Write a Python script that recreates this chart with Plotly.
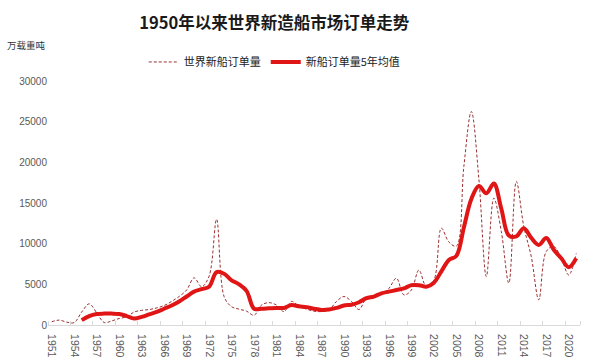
import plotly.graph_objects as go

years = list(range(1951, 2022))

orders = [400, 600, 350, 300, 1600, 2600, 1500, 300, 500, 800,
          1000, 1600, 1800, 1900, 2100, 2400, 2900, 3500, 4300, 5800,
          4700, 6000, 13000, 3500, 2250, 1950, 1700, 1200, 2450, 2750,
          2450, 1650, 2900, 2300, 1950, 1700, 1650, 1850, 2900, 3500,
          2900, 1900, 3300, 3600, 3750, 4500, 5750, 3700, 4300, 6750,
          4700, 5500, 11900, 10200, 9700, 19500, 26250, 18000, 5950, 15600,
          11500, 5150, 17650, 12100, 8400, 3100, 9050, 9650, 8200, 6150,
          8800]

avg_years = list(range(1955, 2022))
avg5 = [600, 1100, 1350, 1400, 1400, 1350, 1100, 800, 1000, 1300,
        1600, 2000, 2400, 2900, 3500, 4100, 4400, 4700, 6500, 6300,
        5500, 5000, 4200, 2000, 2000, 2050, 2100, 2100, 2450, 2300,
        2200, 2000, 1850, 1900, 2100, 2400, 2500, 2800, 3300, 3500,
        3900, 4100, 4300, 4500, 4900, 4900, 4700, 5200, 6600, 8000,
        8500, 12000, 15500, 17100, 16200, 17400, 14300, 11000, 10900, 11900,
        10700, 9850, 10700, 9250, 8200, 7100, 8200]

tick_years = list(range(1951, 2021, 3))
yticks = [0, 5000, 10000, 15000, 20000, 25000, 30000]

title_text = "1950年以来世界新造船市场订单走势"
unit_text = "万载重吨"
name_orders = "世界新船订单量"
name_avg = "新船订单量5年均值"

fig = go.Figure()
fig.add_trace(go.Scatter(
    x=years, y=orders, mode="lines", name=name_orders,
    line=dict(color="#9b3030", width=1, dash="3px,2px", shape="spline", smoothing=1.0),
))
fig.add_trace(go.Scatter(
    x=avg_years, y=avg5, mode="lines", name=name_avg,
    line=dict(color="#e01515", width=4, shape="spline", smoothing=1.0),
))

cjk = "Noto Sans CJK SC"
fig.update_layout(
    width=600, height=363,
    margin=dict(l=48, r=20, t=81, b=38, autoexpand=False),
    paper_bgcolor="white", plot_bgcolor="white",
    title=dict(text="<b>" + title_text + "</b>", x=0.457, xanchor="center",
               y=1 - 23 / 363, yanchor="middle",
               font=dict(family=cjk, size=16.5, color="#1a1a1a")),
    showlegend=True,
    legend=dict(orientation="h", x=0.18, xanchor="left", y=1.078, yanchor="middle",
                font=dict(family=cjk, size=11, color="#222222"),
                bgcolor="rgba(0,0,0,0)", itemwidth=30, tracegroupgap=0),
    font=dict(family="Liberation Sans, Arial, sans-serif"),
)
fig.add_annotation(text=unit_text, xref="paper", yref="paper",
                   x=-0.08, y=1.148, xanchor="left", yanchor="middle",
                   showarrow=False, font=dict(family=cjk, size=9.5, color="#333333"))

fig.update_xaxes(
    range=[1950.5, 2021.5],
    tickmode="array", tickvals=tick_years, ticktext=[str(y) for y in tick_years],
    tickangle=90, tickfont=dict(size=10.5, color="#595959"),
    ticks="outside", ticklen=6, tickcolor="rgba(0,0,0,0)",
    showgrid=False, zeroline=False,
    showline=True, linecolor="#d9d9d9", linewidth=1,
    minor=dict(tickmode="array", tickvals=[y - 0.5 for y in tick_years] + [2021.5],
               ticks="inside", ticklen=4, tickcolor="#d9d9d9", showgrid=False),
)
fig.update_yaxes(
    range=[0, 30000],
    tickmode="array", tickvals=yticks, ticktext=[str(v) for v in yticks],
    tickfont=dict(size=10, color="#595959"),
    showgrid=False, zeroline=False, showline=False, ticks="",
)

fig.write_html("out.html", config={"displayModeBar": False},
               post_script="document.body.style.margin='0';")
